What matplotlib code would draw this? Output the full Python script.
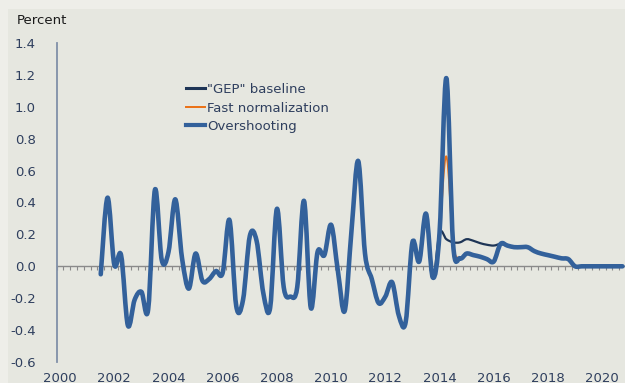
import numpy as np
import matplotlib.pyplot as plt
from matplotlib.path import Path
from matplotlib.patches import PathPatch, Rectangle
from matplotlib.lines import Line2D

# quarterly index: 0 = 2000Q1
q_start = 6
common = [-0.05, 0.43, 0.01, 0.07, -0.37, -0.21, -0.16, -0.27, 0.48, 0.04,
          0.09, 0.42, 0.05, -0.14, 0.08, -0.09, -0.08, -0.03, -0.04, 0.29,
          -0.25, -0.21, 0.19, 0.16, -0.17, -0.26, 0.36, -0.13, -0.19, -0.13,
          0.41, -0.26, 0.09, 0.07, 0.26, -0.03, -0.28, 0.22, 0.66, 0.08,
          -0.08, -0.23, -0.19, -0.10, -0.31, -0.35, 0.15, 0.03, 0.33, -0.07,
          0.21]                                   # 2001Q3 .. 2014Q1
base_mid = [0.17, 0.15, 0.15, 0.17, 0.16, 0.145, 0.135, 0.13]    # 2014Q2 .. 2016Q1
fast_mid = [0.69, 0.14, 0.05, 0.08, 0.07, 0.06, 0.045, 0.03]
over_mid = [1.18, 0.14, 0.05, 0.08, 0.07, 0.06, 0.045, 0.03]
tail = [0.14, 0.13, 0.12, 0.12, 0.12, 0.095, 0.08, 0.07, 0.06, 0.05,
        0.045, 0.0, 0.0, 0.0, 0.0, 0.0, 0.0, 0.0, 0.0]     # 2016Q2 .. 2020Q4

baseline = common + base_mid + tail
fast = common + fast_mid + tail
over = common + over_mid + tail
quarters = np.arange(q_start, q_start + len(over))

years = list(range(2000, 2021, 2))

col_over = '#33619B'
col_base = '#1E3556'
col_fast = '#EC7014'
txt = '#2F3F5E'


def smooth_path(x, y):
    # bezier segments like a spreadsheet "smoothed line"
    n = len(x)
    verts = [(x[0], y[0])]
    codes = [Path.MOVETO]
    for i in range(n - 1):
        a = max(i - 1, 0)
        b = min(i + 2, n - 1)
        c1 = (x[i] + (x[i + 1] - x[a]) / 6, y[i] + (y[i + 1] - y[a]) / 6)
        c2 = (x[i + 1] - (x[b] - x[i]) / 6, y[i + 1] - (y[b] - y[i]) / 6)
        verts += [c1, c2, (x[i + 1], y[i + 1])]
        codes += [Path.CURVE4] * 3
    return Path(verts, codes)


fig = plt.figure(figsize=(6.25, 3.83), dpi=100)
fig.patch.set_facecolor('#EEEEE9')
fig.patches.append(Rectangle((8 / 625, 0), 1, 1 - 9 / 383, transform=fig.transFigure,
                             facecolor='#E6E7E0', edgecolor='none', zorder=-10))

ax = fig.add_axes([56.7 / 625, 1 - 362 / 383, 1 - 56.7 / 625, (362 - 43) / 383])
ax.set_facecolor('none')
ax.set_xlim(-0.5, 83.37)
ax.set_ylim(-0.6, 1.4)

for y, c, lw in [(baseline, col_base, 1.6), (fast, col_fast, 1.2), (over, col_over, 3.3)]:
    ax.add_patch(PathPatch(smooth_path(quarters, y), fill=False, edgecolor=c, lw=lw,
                           capstyle='round', joinstyle='round', zorder=3))

# zero axis with quarterly tick marks
zero = ax.secondary_xaxis(0.3)
zero.set_xticks(np.arange(-0.5, 84, 1))
zero.set_xticklabels([])
zero.tick_params(direction='out', length=3, width=0.8, color='#8A8A8A')
zero.spines['bottom'].set_color('#8A8A8A')
zero.spines['bottom'].set_linewidth(1.0)

ax.set_xticks([(yr - 2000) * 4 for yr in years])
ax.set_xticklabels([str(yr) for yr in years])
ax.set_yticks(np.arange(-0.6, 1.41, 0.2))
ax.set_yticklabels(['%.1f' % v for v in np.arange(-0.6, 1.41, 0.2)])
ax.tick_params(axis='x', length=0, pad=7, labelsize=9.5, labelcolor=txt)
ax.tick_params(axis='y', length=0, pad=15, labelsize=9.5, labelcolor=txt)
for s in ['top', 'right', 'bottom']:
    ax.spines[s].set_visible(False)
ax.spines['left'].set_color('#8190A8')
ax.spines['left'].set_linewidth(1.3)

fig.text(17 / 625, 1 - 20 / 383, 'Percent', fontsize=9.5, color='#1A1A1A', va='center')

handles = [Line2D([], [], color=col_base, lw=2.2),
           Line2D([], [], color=col_fast, lw=1.4),
           Line2D([], [], color=col_over, lw=3.0)]
fig.legend(handles, ['"GEP" baseline', 'Fast normalization', 'Overshooting'],
           loc='upper left', bbox_to_anchor=(186 / 625, 1 - 83 / 383), frameon=False,
           fontsize=9.5, labelcolor=txt, handlelength=1.45, handletextpad=0.15,
           labelspacing=0.42, borderpad=0, borderaxespad=0)

fig.savefig('out.png', dpi=100, facecolor=fig.get_facecolor())
